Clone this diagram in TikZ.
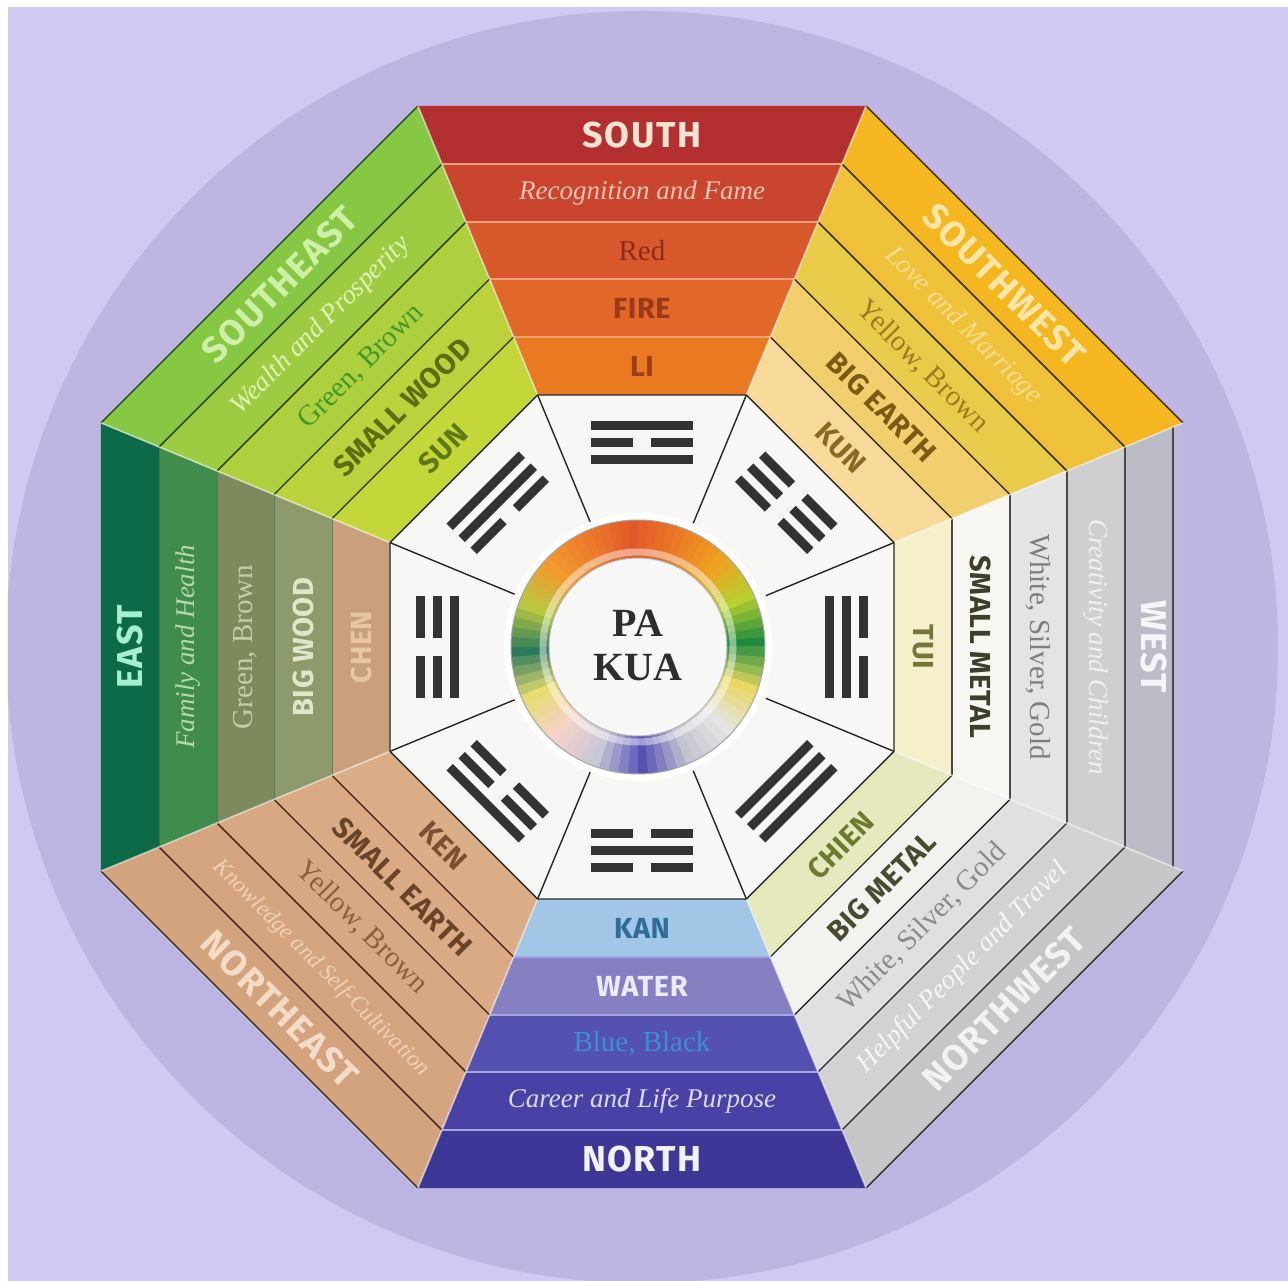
\documentclass[tikz,border=0pt]{standalone}
\usepackage{fontspec}
\setmainfont{Liberation Serif}
\setsansfont{Fira Sans}
% background
\definecolor{lav}{HTML}{D1C9F3}
\definecolor{halo}{HTML}{BDB6E2}
\definecolor{trig}{HTML}{333333}
\definecolor{octin}{HTML}{F7F7F6}
\definecolor{wstrip}{HTML}{BDB8DC}
% segment fills inner -> outer
\definecolor{S1}{HTML}{EA7A22}\definecolor{S2}{HTML}{E2682A}\definecolor{S3}{HTML}{D85A2C}\definecolor{S4}{HTML}{C9452E}\definecolor{S5}{HTML}{B43030}
\definecolor{SW1}{HTML}{F7D99A}\definecolor{SW2}{HTML}{F0CF6C}\definecolor{SW3}{HTML}{E9CB4A}\definecolor{SW4}{HTML}{EFC23A}\definecolor{SW5}{HTML}{F5B71F}
\definecolor{W1}{HTML}{F5EFCC}\definecolor{W2}{HTML}{F7F7F2}\definecolor{W3}{HTML}{E4E4E4}\definecolor{W4}{HTML}{CFCFD2}\definecolor{W5}{HTML}{BCBCC6}
\definecolor{NW1}{HTML}{E6E9BD}\definecolor{NW2}{HTML}{F2F2EE}\definecolor{NW3}{HTML}{E0E0E0}\definecolor{NW4}{HTML}{D2D2D2}\definecolor{NW5}{HTML}{C6C6C6}
\definecolor{N1}{HTML}{A2C6E6}\definecolor{N2}{HTML}{8480C2}\definecolor{N3}{HTML}{5551B0}\definecolor{N4}{HTML}{4842A6}\definecolor{N5}{HTML}{3D3797}
\definecolor{NE1}{HTML}{DCAE88}\definecolor{NE2}{HTML}{D9AA84}\definecolor{NE3}{HTML}{D7A882}\definecolor{NE4}{HTML}{D5A580}\definecolor{NE5}{HTML}{D3A37E}
\definecolor{E1}{HTML}{C8A07E}\definecolor{E2}{HTML}{8C9A6C}\definecolor{E3}{HTML}{7C8A5C}\definecolor{E4}{HTML}{3F8C4C}\definecolor{E5}{HTML}{0D6A48}
\definecolor{SE1}{HTML}{C3D63A}\definecolor{SE2}{HTML}{BCD23C}\definecolor{SE3}{HTML}{AED03E}\definecolor{SE4}{HTML}{9DCC42}\definecolor{SE5}{HTML}{86C744}
% text colours
\definecolor{tS1}{HTML}{9C3E14}\definecolor{tS2}{HTML}{9A3A18}\definecolor{tS3}{HTML}{8E2A1C}\definecolor{tS4}{HTML}{F2C2B4}\definecolor{tS5}{HTML}{F6E4D2}
\definecolor{tSW1}{HTML}{8A6A20}\definecolor{tSW2}{HTML}{7A5A14}\definecolor{tSW3}{HTML}{A07A20}\definecolor{tSW4}{HTML}{F6DE90}\definecolor{tSW5}{HTML}{FBE6A8}
\definecolor{tW1}{HTML}{76763A}\definecolor{tW2}{HTML}{3E3E2A}\definecolor{tW3}{HTML}{7E7E7E}\definecolor{tW4}{HTML}{F0F0F0}\definecolor{tW5}{HTML}{F6F6FA}
\definecolor{tNW1}{HTML}{6E7A30}\definecolor{tNW2}{HTML}{4A4A30}\definecolor{tNW3}{HTML}{8A8A8A}\definecolor{tNW4}{HTML}{F6F6F6}\definecolor{tNW5}{HTML}{F2F2F2}
\definecolor{tN1}{HTML}{2E6E96}\definecolor{tN2}{HTML}{ECEAF8}\definecolor{tN3}{HTML}{3A90D2}\definecolor{tN4}{HTML}{DCDAF8}\definecolor{tN5}{HTML}{F2F2FF}
\definecolor{tNE1}{HTML}{7A5030}\definecolor{tNE2}{HTML}{6A4428}\definecolor{tNE3}{HTML}{8A6040}\definecolor{tNE4}{HTML}{EED2B8}\definecolor{tNE5}{HTML}{F2DCC6}
\definecolor{tE1}{HTML}{E6C6A4}\definecolor{tE2}{HTML}{E2E6C8}\definecolor{tE3}{HTML}{C6CCA8}\definecolor{tE4}{HTML}{B6D8AE}\definecolor{tE5}{HTML}{A6EED0}
\definecolor{tSE1}{HTML}{5E7A12}\definecolor{tSE2}{HTML}{5E6C12}\definecolor{tSE3}{HTML}{3E9A28}\definecolor{tSE4}{HTML}{E2F2B4}\definecolor{tSE5}{HTML}{CDEFA6}
% line colours
\definecolor{lS}{HTML}{F2A07A}\definecolor{lN}{HTML}{A8A4E0}\definecolor{lSE}{HTML}{2E4A10}
\definecolor{lSW}{HTML}{3A2C08}\definecolor{lW}{HTML}{4A4A4A}\definecolor{lNW}{HTML}{2A2A2A}
\definecolor{lNE}{HTML}{4A2E1A}\definecolor{lE}{HTML}{2E6E4A}
% ring key colours
\definecolor{C0}{HTML}{1E8A3E}\definecolor{C1}{HTML}{B8D030}\definecolor{C2}{HTML}{F0A020}\definecolor{C3}{HTML}{EA7A24}
\definecolor{C4}{HTML}{E2582A}\definecolor{C5}{HTML}{EC7A2A}\definecolor{C6}{HTML}{F29A2E}\definecolor{C7}{HTML}{B8C840}
\definecolor{C8}{HTML}{2B7A5C}\definecolor{C9}{HTML}{E8DC70}\definecolor{C10}{HTML}{F4D2C8}\definecolor{C11}{HTML}{C8C8D8}
\definecolor{C12}{HTML}{5552B2}\definecolor{C13}{HTML}{C4C4D0}\definecolor{C14}{HTML}{E4E4E4}\definecolor{C15}{HTML}{E8D860}

\tikzset{
  dirtxt/.style={font=\sffamily\bfseries\fontsize{36}{36}\selectfont\addfontfeature{LetterSpace=4}, inner sep=0pt},
  elemtxt/.style={font=\sffamily\bfseries\fontsize{29}{29}\selectfont\addfontfeature{LetterSpace=2}, inner sep=0pt},
  areatxt/.style={font=\itshape\fontsize{27}{27}\selectfont, inner sep=0pt},
  huetxt/.style={font=\fontsize{29}{29}\selectfont, inner sep=0pt},
  centretxt/.style={font=\bfseries\fontsize{40}{44}\selectfont, text=black!82, align=center, inner sep=0pt},
  bandline/.style={line width=1.5pt},
  radline/.style={draw=black!85, line width=1.4pt},
}

% segment: #1 angle, #2-#6 fills inner->outer, #7 line options
\newcommand\pkseg[7]{%
  \foreach \ri/\ro/\cc in {272.8/335.5/#2, 335.5/398.3/#3, 398.3/460.0/#4, 460.0/522.8/#5, 522.8/585.6/#6}{%
    \fill[fill=\cc] (#1-22.5:\ri) -- (#1+22.5:\ri) -- (#1+22.5:\ro) -- (#1-22.5:\ro) -- cycle;
  }%
  \foreach \rr in {335.5,398.3,460.0,522.8}{%
    \draw[bandline,#7] (#1-22.5:\rr) -- (#1+22.5:\rr);
  }%
}
% texts: #1 key, #2 angle, #3 rotation, #4..#8 texts inner->outer
\newcommand\pktext[8]{%
  \node[elemtxt, text=t#11, rotate=#3] (#1a) at (#2:281) {#4};
  \node[elemtxt, text=t#12, rotate=#3] (#1b) at (#2:339) {#5};
  \node[huetxt, text=t#13, rotate=#3] (#1c) at (#2:396.5) {#6};
  \node[areatxt, text=t#14, rotate=#3] (#1d) at (#2:454) {#7};
  \node[dirtxt, text=t#15, rotate=#3] (#1e) at (#2:512) {#8};
}
% trigram bar
\newcommand\pkbar[2]{%
  \ifnum#1=1
    \fill[trig] (-51,#2-4.5) rectangle (51,#2+4.5);
  \else
    \fill[trig] (-51,#2-4.5) rectangle (-9,#2+4.5);
    \fill[trig] (9,#2-4.5) rectangle (51,#2+4.5);
  \fi}
% trigram: #1 angle, #2 #3 #4 bars from centre outwards
\newcommand\pktrig[4]{%
  \begin{scope}[rotate=#1-90]
    \pkbar{#2}{187}\pkbar{#3}{204}\pkbar{#4}{221}
  \end{scope}}

\begin{document}
\begin{tikzpicture}[x=1pt,y=1pt]
\useasboundingbox (-642,-634) rectangle (646,647);
% background
\fill[white] (-642,-634) rectangle (646,647);
\fill[lav] (-634,-634) rectangle (646,640);
\begin{scope}
  \clip (-634,-634) rectangle (646,640);
  \fill[halo] (0,0) circle (636);
\end{scope}

% outer segments
\pkseg{90}{S1}{S2}{S3}{S4}{S5}{draw=lS, line width=1.2pt}
\pkseg{45}{SW1}{SW2}{SW3}{SW4}{SW5}{draw=lSW}
\pkseg{0}{W1}{W2}{W3}{W4}{W5}{draw=lW, line width=1.3pt}
\pkseg{-45}{NW1}{NW2}{NW3}{NW4}{NW5}{draw=lNW, line width=1.3pt}
\pkseg{-90}{N1}{N2}{N3}{N4}{N5}{draw=lN, line width=1.2pt}
\pkseg{-135}{NE1}{NE2}{NE3}{NE4}{NE5}{draw=lNE}
\pkseg{180}{E1}{E2}{E3}{E4}{E5}{draw=lE, line width=1pt, opacity=.6}
\pkseg{135}{SE1}{SE2}{SE3}{SE4}{SE5}{draw=lSE}

% west outer strip
\fill[wstrip] (-22.5:575) -- (22.5:575) -- (22.5:585.6) -- (-22.5:585.6) -- cycle;

% outer edges of the diagonal and west segments
\draw[bandline, draw=lSE] (112.5:585.6) -- (157.5:585.6);
\draw[bandline, draw=lSW] (22.5:585.6) -- (67.5:585.6);
\draw[bandline, draw=lNW] (-22.5:585.6) -- (-67.5:585.6);
\draw[bandline, draw=lNE] (-112.5:585.6) -- (-157.5:585.6);
\draw[bandline, draw=lW] (-22.5:575) -- (22.5:575);

% separators between segments
\foreach \a in {22.5,67.5,...,337.5}{
  \draw[white, line width=1.6pt, opacity=.55] (\a:272.8) -- (\a:585.6);
}

% inner octagon
\fill[octin] (22.5:272.8) -- (67.5:272.8) -- (112.5:272.8) -- (157.5:272.8) -- (202.5:272.8) -- (247.5:272.8) -- (292.5:272.8) -- (337.5:272.8) -- cycle;
\draw[radline] (22.5:272.8) -- (67.5:272.8) -- (112.5:272.8) -- (157.5:272.8) -- (202.5:272.8) -- (247.5:272.8) -- (292.5:272.8) -- (337.5:272.8) -- cycle;
\foreach \a in {22.5,67.5,...,337.5}{
  \draw[radline] (\a:134) -- (\a:272.8);
}

% trigrams (bars from centre outwards: 1 solid, 0 broken)
\pktrig{90}{1}{0}{1}
\pktrig{45}{0}{0}{0}
\pktrig{0}{1}{1}{0}
\pktrig{-45}{1}{1}{1}
\pktrig{-90}{0}{1}{0}
\pktrig{-135}{0}{0}{1}
\pktrig{180}{1}{0}{0}
\pktrig{135}{0}{1}{1}

% centre ring
\begin{scope}[shift={(-4,0)}]
  \fill[white] (0,0) circle (134);
  \foreach \k in {0,...,15}{
    \pgfmathtruncatemacro\kn{mod(\k+1,16)}
    \foreach \j in {0,...,4}{
      \pgfmathsetmacro\aa{\k*22.5+\j*4.5}
      \pgfmathsetmacro\bb{\aa+4.9}
      \pgfmathtruncatemacro\pp{100-\j*20}
      \colorlet{rc}{C\k!\pp!C\kn}
      \fill[fill=rc] (\aa:89) arc[start angle=\aa, end angle=\bb, radius=89] -- (\bb:127) arc[start angle=\bb, end angle=\aa, radius=127] -- cycle;
    }
  }
  \draw[white, line width=7pt, opacity=.45] (0,0) circle (95);
  \draw[black!35, line width=1pt] (0,0) circle (127);
  \fill[octin] (0,0) circle (89);
  \draw[black!30, line width=1pt] (0,0) circle (89);
  \node[centretxt] (pakua) at (0,2) {PA\\KUA};
\end{scope}

% texts
\pktext{S}{90}{0}{LI}{FIRE}{Red}{Recognition and Fame}{SOUTH}
\pktext{SW}{45}{-45}{KUN}{BIG EARTH}{Yellow, Brown}{Love and Marriage}{SOUTHWEST}
\pktext{W}{0}{-90}{TUI}{SMALL METAL}{White, Silver, Gold}{Creativity and Children}{WEST}
\pktext{NW}{-45}{45}{CHIEN}{BIG METAL}{White, Silver, Gold}{Helpful People and Travel}{NORTHWEST}
\pktext{N}{-90}{0}{KAN}{WATER}{Blue, Black}{Career and Life Purpose}{NORTH}
\pktext{NE}{-135}{-45}{KEN}{SMALL EARTH}{Yellow, Brown}{\fontsize{23}{23}\selectfont Knowledge and Self-Cultivation}{NORTHEAST}
\pktext{E}{180}{90}{CHEN}{BIG WOOD}{Green, Brown}{Family and Health}{EAST}
\pktext{SE}{135}{45}{SUN}{SMALL WOOD}{Green, Brown}{Wealth and Prosperity}{SOUTHEAST}
\end{tikzpicture}
\end{document}
